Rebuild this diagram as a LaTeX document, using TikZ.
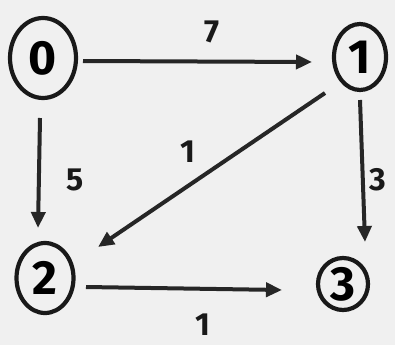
\documentclass[tikz,border=0pt]{standalone}
\usepackage{fontspec}
\setmainfont{Fira Sans}
\usetikzlibrary{arrows.meta,shapes.geometric}
\begin{document}
\begin{tikzpicture}[x=1pt,y=-1pt,
  vert/.style={draw=black!90, line width=4.2pt, shape=ellipse, inner sep=0pt, font=\fontsize{48}{48}\selectfont\bfseries},
  edge/.style={draw=black!85, line width=4pt, -{Triangle[length=16pt,width=14pt]}},
  wlab/.style={font=\fontsize{32}{32}\selectfont\bfseries, text=black!90}]
\fill[black!6] (0,0) rectangle (395,345);
\useasboundingbox (0,0) rectangle (395,345);
\node[vert, minimum width=66pt, minimum height=80pt] (n0) at (43,58) {0};
\node[vert, minimum width=52pt, minimum height=66pt] (n1) at (360,57) {1};
\node[vert, minimum width=57pt, minimum height=70pt] (n2) at (45,278) {2};
\node[vert, minimum width=50pt, minimum height=52pt] (n3) at (343,284) {3};
\coordinate (a0) at (83,61);
\coordinate (b0) at (312,62);
\draw[edge] (a0) -- (b0);
\coordinate (a1) at (40,118);
\coordinate (b1) at (38,228);
\draw[edge] (a1) -- (b1);
\coordinate (a2) at (325,93);
\coordinate (b2) at (98,247);
\draw[edge] (a2) -- (b2);
\coordinate (a3) at (360,100);
\coordinate (b3) at (365,242);
\draw[edge] (a3) -- (b3);
\coordinate (a4) at (86,287);
\coordinate (b4) at (282,290);
\draw[edge] (a4) -- (b4);
\node[wlab] (l7) at (212,32) {7};
\node[wlab] (l5) at (75,180) {5};
\node[wlab] (l1a) at (188,152) {1};
\node[wlab] (l3) at (378,180) {3};
\node[wlab] (l1b) at (203,325) {1};
\end{tikzpicture}
\end{document}
